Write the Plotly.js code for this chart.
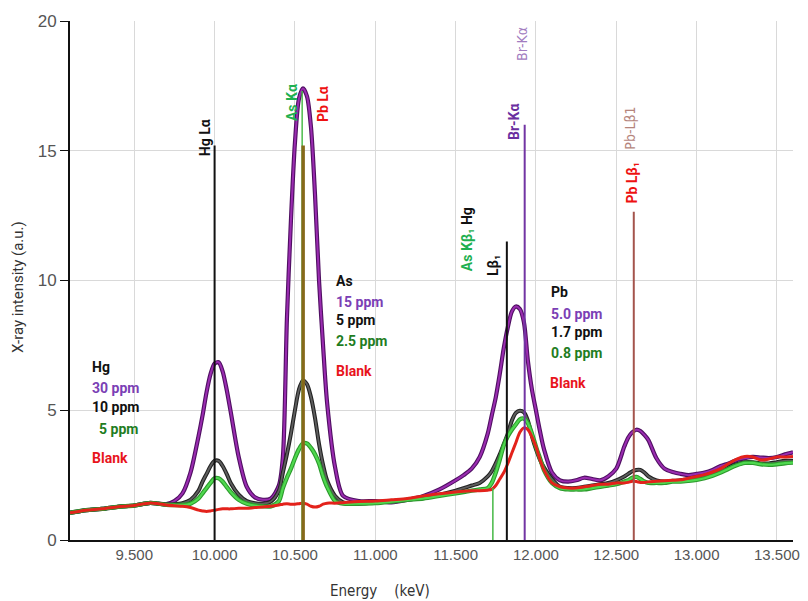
<!DOCTYPE html>
<html>
<head>
<meta charset="utf-8">
<script src="https://cdn.plot.ly/plotly-3.0.1.min.js"></script>
<style>html,body{margin:0;padding:0;background:#fff}#chart{width:808px;height:601px}</style>
</head>
<body>
<div id="chart"></div>
<script>
// ---------------- data ----------------
const energy = [9.10,9.20,9.30,9.40,9.50,9.60,9.65,9.70,9.75,9.80,9.85,9.90,9.925,9.95,9.975,10.00,10.025,10.05,10.075,10.10,10.15,10.20,10.25,10.30,10.35,10.40,10.425,10.45,10.475,10.50,10.525,10.55,10.575,10.60,10.625,10.65,10.675,10.70,10.75,10.80,10.90,11.00,11.10,11.20,11.30,11.40,11.50,11.55,11.60,11.65,11.70,11.725,11.75,11.775,11.80,11.825,11.85,11.875,11.90,11.925,11.95,11.975,12.00,12.025,12.05,12.10,12.15,12.20,12.25,12.30,12.35,12.40,12.45,12.50,12.55,12.575,12.60,12.625,12.65,12.675,12.70,12.75,12.80,12.85,12.90,12.95,13.00,13.05,13.10,13.15,13.20,13.25,13.30,13.35,13.40,13.45,13.50,13.55,13.60];

// Hg 30 ppm / As 15 ppm / Pb 5.0 ppm (purple)
const seriesHigh = [1.05,1.15,1.2,1.28,1.33,1.43,1.4,1.38,1.5,1.8,2.6,4.0,4.8,5.7,6.4,6.8,6.85,6.5,5.8,4.95,3.2,2.05,1.65,1.55,1.6,2.1,3.2,8.5,12.3,15.3,17.0,17.4,17.1,15.9,13.3,10.0,7.5,5.3,2.8,1.7,1.5,1.5,1.45,1.55,1.7,1.95,2.3,2.5,2.75,3.2,4.1,4.8,5.5,6.4,7.4,8.2,8.8,9.0,8.9,8.4,6.9,5.8,5.0,4.2,3.5,2.6,2.3,2.25,2.3,2.4,2.35,2.3,2.45,2.75,3.6,3.95,4.15,4.25,4.2,4.05,3.85,3.15,2.75,2.62,2.55,2.5,2.55,2.6,2.7,2.85,2.95,3.08,3.15,3.2,3.18,3.16,3.2,3.3,3.38];

// Hg 10 ppm / As 5 ppm / Pb 1.7 ppm (black)
const seriesMid = [1.05,1.15,1.2,1.28,1.33,1.43,1.4,1.37,1.38,1.42,1.55,1.9,2.25,2.55,2.85,3.05,3.05,2.85,2.55,2.2,1.75,1.5,1.42,1.4,1.48,1.9,2.6,3.3,4.1,5.0,5.8,6.15,6.0,5.5,4.7,3.7,2.9,2.3,1.7,1.45,1.4,1.45,1.5,1.55,1.65,1.75,1.9,2.0,2.1,2.2,2.45,2.65,2.95,3.3,3.7,4.1,4.6,4.9,4.98,4.92,4.6,4.0,3.5,3.1,2.8,2.35,2.05,2.0,2.0,2.05,2.1,2.15,2.2,2.3,2.45,2.55,2.65,2.7,2.7,2.6,2.45,2.3,2.25,2.28,2.3,2.35,2.4,2.45,2.55,2.65,2.8,2.92,3.0,3.0,2.95,2.95,3.0,3.05,3.05];

// Hg 5 ppm / As 2.5 ppm / Pb 0.8 ppm (green)
const seriesLow = [1.05,1.15,1.2,1.28,1.33,1.43,1.4,1.36,1.35,1.35,1.4,1.6,1.8,2.0,2.2,2.38,2.38,2.25,2.05,1.85,1.55,1.4,1.33,1.3,1.3,1.5,2.0,2.4,2.75,3.15,3.5,3.72,3.72,3.55,3.3,2.95,2.45,2.05,1.5,1.4,1.4,1.42,1.48,1.55,1.6,1.7,1.8,1.85,1.9,1.95,2.0,2.2,2.6,3.1,3.65,4.0,4.25,4.45,4.65,4.68,4.5,4.1,3.6,3.15,2.7,2.2,2.0,1.95,1.95,1.95,2.0,2.05,2.1,2.15,2.25,2.3,2.4,2.43,2.35,2.25,2.2,2.2,2.2,2.25,2.25,2.28,2.32,2.38,2.48,2.6,2.75,2.88,2.97,2.97,2.92,2.9,2.92,2.96,2.98];

// Blank (red)
const seriesBlank = [1.05,1.15,1.2,1.28,1.33,1.43,1.4,1.35,1.32,1.3,1.25,1.15,1.12,1.1,1.12,1.15,1.18,1.2,1.2,1.2,1.22,1.22,1.25,1.27,1.3,1.35,1.38,1.4,1.38,1.38,1.4,1.42,1.38,1.3,1.27,1.3,1.38,1.42,1.42,1.44,1.48,1.5,1.55,1.6,1.7,1.78,1.85,1.88,1.9,1.9,1.92,1.95,2.1,2.35,2.6,2.95,3.35,3.75,4.15,4.32,4.25,3.97,3.6,3.1,2.7,2.2,2.05,2.0,2.0,2.05,2.1,2.15,2.15,2.2,2.2,2.22,2.26,2.25,2.22,2.22,2.24,2.26,2.28,2.3,2.32,2.38,2.45,2.52,2.62,2.75,2.95,3.12,3.22,3.2,3.08,3.12,3.2,3.2,3.22];

// emission line markers
const lineNames  = ["Hg La","As Ka","Pb La","As Kb1","Hg Lb1","Br Ka","Pb Lb1"];
const lineEnergy = [10.0, 10.545, 10.551, 11.732, 11.819, 11.930, 12.609];
const lineTop    = [15.2, 17.3, 15.2, 2.0, 11.5, 16.0, 12.65];

const xTickVals = [9.5,10.0,10.5,11.0,11.5,12.0,12.5,13.0,13.5];
const yTickVals = [0,5,10,15,20];

// ---------------- styles ----------------
const lineStyles = [
  {color:'#111111', width:2},
  {color:'#4cbb4c', width:1.5},
  {color:'#86691a', width:3.5},
  {color:'#45b845', width:1.5},
  {color:'#111111', width:2},
  {color:'#7235a3', width:2},
  {color:'#a4544c', width:2}
];

const traces = [];
function addCurve(y, outer, inner, wo, wi) {
  traces.push({x: energy, y: y, mode:'lines', line:{color:outer, width:wo, shape:'spline', smoothing:0.8}, hoverinfo:'skip'});
  if (inner) traces.push({x: energy, y: y, mode:'lines', line:{color:inner, width:wi, shape:'spline', smoothing:0.8}, hoverinfo:'skip'});
}
addCurve(seriesHigh, '#4f0f62', '#9a2cb0', 4.2, 2.0);
addCurve(seriesMid,  '#222222', '#5e5e5e', 4.0, 1.8);
addCurve(seriesLow,  '#2c9a2c', '#4fd84f', 4.4, 2.2);
addCurve(seriesBlank,'#e3221b', null, 3.0, 0);

lineEnergy.forEach((e, i) => {
  traces.push({x:[e, e], y:[0, lineTop[i]], mode:'lines', name: lineNames[i],
    line:{color: lineStyles[i].color, width: lineStyles[i].width}, hoverinfo:'skip'});
});

const F = 'Roboto, "Noto Sans", "Liberation Sans", Arial, sans-serif';
const NARROW = '"Liberation Sans Narrow", "DejaVu Sans Condensed", Roboto, sans-serif';
const purple = '#7b3fb5', green = '#1f7d1f', red = '#e8141c', black = '#111111';

function lab(x, y, text, color, extra) {
  return Object.assign({x:x, y:y, xref:'x', yref:'y', text:text, showarrow:false,
    xanchor:'left', yanchor:'middle', font:{family:F, size:14, color:color, weight:'bold'}}, extra || {});
}
function rot(x, y, text, color, extra) {
  return Object.assign({x:x, y:y, xref:'x', yref:'y', text:text, showarrow:false, textangle:-90,
    xanchor:'center', yanchor:'middle', font:{family:F, size:14, color:color, weight:'bold'}}, extra || {});
}

const annotations = [
  // Hg block
  lab(9.226, 6.67, 'Hg', black),
  lab(9.226, 5.86, '30 ppm', purple),
  lab(9.226, 5.13, '10 ppm', black),
  lab(9.269, 4.28, '5 ppm', green),
  lab(9.226, 3.16, 'Blank', red),
  // As block
  lab(10.743, 9.98, 'As', black),
  lab(10.743, 9.17, '15 ppm', purple),
  lab(10.743, 8.48, '5 ppm', black),
  lab(10.743, 7.67, '2.5 ppm', green),
  lab(10.743, 6.51, 'Blank', red),
  // Pb block
  lab(12.080, 9.56, 'Pb', black),
  lab(12.080, 8.71, '5.0 ppm', purple),
  lab(12.080, 8.02, '1.7 ppm', black),
  lab(12.080, 7.21, '0.8 ppm', green),
  lab(12.075, 6.05, 'Blank', red),
  // peak labels
  rot(9.941, 15.49, 'Hg Lα', black),
  rot(10.482, 16.84, 'As Kα', '#1fb050'),
  rot(10.675, 16.80, 'Pb Lα', '#ee1111'),
  rot(11.572, 11.60, '<span style="color:#1fb050">As Kβ₁</span> Hg', black),
  rot(11.733, 10.56, 'Lβ₁', black),
  rot(11.862, 16.10, 'Br-Kα', '#6a2fa0'),
  rot(12.596, 13.76, 'Pb Lβ₁', '#ee1111'),
  rot(11.912, 19.11, 'Br-Kα', '#a27cc0', {font:{family:NARROW, size:14, color:'#a27cc0'}}),
  rot(12.584, 15.88, 'Pb-Lβ1', '#b5857c', {font:{family:NARROW, size:14, color:'#b5857c'}}),
  // axis titles
  {xref:'paper', yref:'paper', x:(18-70)/723, y:(540-287)/519, text:'X-ray intensity (a.u.)', textangle:-90,
   showarrow:false, xanchor:'center', yanchor:'middle', font:{family:F, size:15, color:'#333'}},
  {xref:'paper', yref:'paper', x:(380-70)/723, y:(540-591)/519, text:'Energy\u00a0\u00a0\u00a0\u00a0(keV)',
   showarrow:false, xanchor:'center', yanchor:'middle', font:{family:NARROW, size:15, color:'#333'}}
];

const layout = {
  width:808, height:601,
  margin:{l:70, r:15, t:21, b:61},
  paper_bgcolor:'#fff', plot_bgcolor:'#fff',
  showlegend:false,
  xaxis:{range:[9.1, 13.6], tickvals:xTickVals, tickformat:'.3f', showgrid:true, gridcolor:'#d9d9d9', gridwidth:1,
    showline:true, linecolor:'#111', linewidth:2, ticks:'', zeroline:false,
    tickfont:{family:'"Liberation Sans", Arial, sans-serif', size:15, color:'#555'}},
  yaxis:{range:[0, 20], tickvals:yTickVals, showgrid:true, gridcolor:'#d9d9d9', gridwidth:1,
    showline:true, linecolor:'#111', linewidth:2, ticks:'outside', ticklen:8, tickcolor:'#111', zeroline:false,
    tickfont:{family:'"Liberation Sans", Arial, sans-serif', size:17, color:'#555'}},
  annotations: annotations
};

Plotly.newPlot('chart', traces, layout, {displayModeBar:false, staticPlot:true});
</script>
</body>
</html>
